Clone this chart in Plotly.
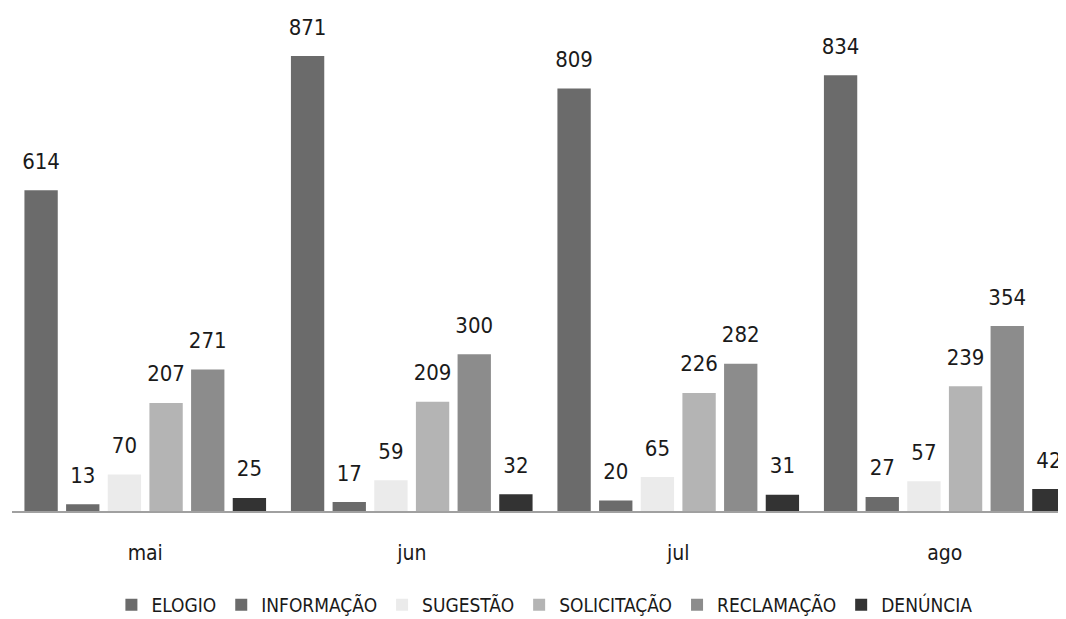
import plotly.graph_objects as go

months = ["mai", "jun", "jul", "ago"]
series_names = ["ELOGIO", "INFORMAÇÃO", "SUGESTÃO", "SOLICITAÇÃO", "RECLAMAÇÃO", "DENÚNCIA"]
elogio = [614, 871, 809, 834]
informacao = [13, 17, 20, 27]
sugestao = [70, 59, 65, 57]
solicitacao = [207, 209, 226, 239]
reclamacao = [271, 300, 282, 354]
denuncia = [25, 32, 31, 42]
colors = ["#6b6b6b", "#6b6b6b", "#ebebeb", "#b4b4b4", "#8c8c8c", "#333333"]

values = [elogio, informacao, sugestao, solicitacao, reclamacao, denuncia]
FONT = "DejaVu Sans Condensed, Roboto, sans-serif"

fig = go.Figure()
for i, (name, vals, col) in enumerate(zip(series_names, values, colors)):
    fig.add_trace(go.Bar(
        name=name, x=months, y=vals,
        marker=dict(color=col, line=dict(width=0)),
        offsetgroup=str(i), alignmentgroup="a",
        hoverinfo="skip",
    ))
for i, vals in enumerate(values):
    fig.add_trace(go.Scatter(
        x=months, y=vals, mode="markers+text",
        text=[str(v) for v in vals], textposition="top center",
        textfont=dict(size=22, color="#1a1a1a", family=FONT),
        marker=dict(size=24, color="rgba(0,0,0,0)"),
        offsetgroup=str(i), alignmentgroup="a",
        showlegend=False, cliponaxis=False, hoverinfo="skip",
    ))

fig.update_layout(
    width=1058, height=611,
    margin=dict(l=4, r=0, t=12, b=108),
    paper_bgcolor="white", plot_bgcolor="white",
    barmode="group", bargap=0.062, bargroupgap=0.2,
    scattermode="group", scattergap=0.062,
    font=dict(family=FONT, size=19, color="#1a1a1a"),
    showlegend=True,
    legend=dict(orientation="h", xref="container", yref="container",
                x=0.507, xanchor="center", y=0.023, yanchor="middle",
                font=dict(size=19, family=FONT, color="#1a1a1a"), traceorder="normal",
                itemwidth=30),
    xaxis=dict(range=[-0.5, 3.455], showline=True, linecolor="#a0a0a0", linewidth=1.5,
               ticks="", showgrid=False, tickfont=dict(size=21, family=FONT),
               ticklabelstandoff=22),
    yaxis=dict(range=[0, 940], visible=False, showgrid=False),
)

fig.write_html("out.html")
